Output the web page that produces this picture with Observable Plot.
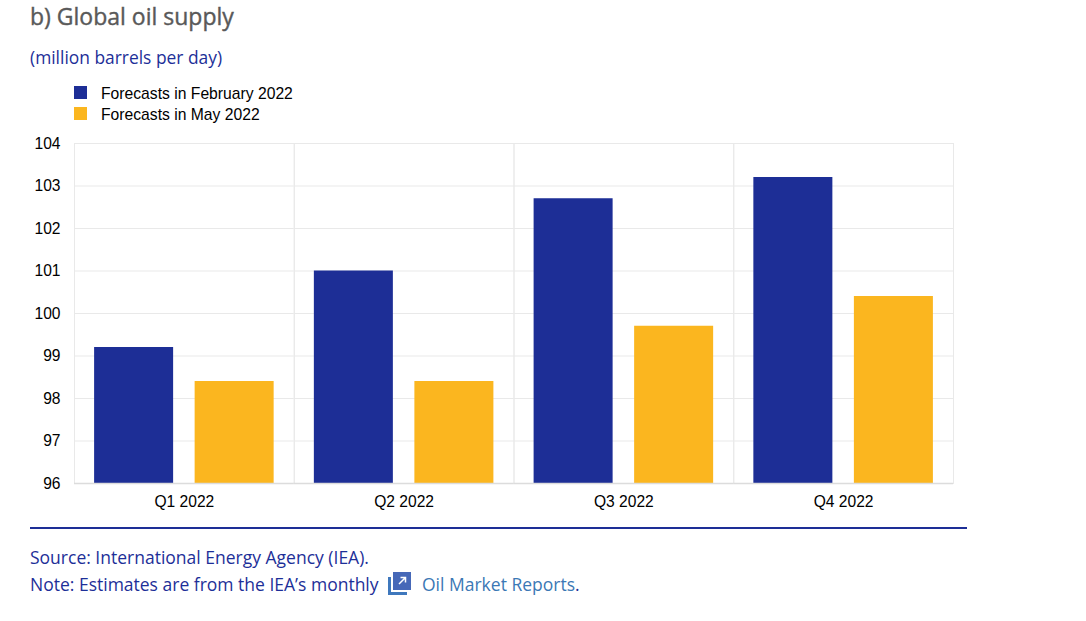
<!DOCTYPE html>
<html><head><meta charset="utf-8">
<script src="https://cdn.jsdelivr.net/npm/d3@7"></script>
<script src="https://cdn.jsdelivr.net/npm/@observablehq/plot@0.6"></script>
<style>
html,body{margin:0;padding:0;background:#fff;overflow:hidden}
body{position:relative;width:1086px;height:621px}
.t{position:absolute;white-space:nowrap;font-family:"Open Sans",sans-serif}
.leg{font:15.7px "Liberation Sans",Arial,sans-serif;color:#000}
.sw{position:absolute;width:13px;height:13px}
#chart{position:absolute;left:0;top:130px}
#chart text{fill:#000}
</style></head><body>
<div class="t" style="left:30px;top:0px;font-size:23px;color:#595959;-webkit-text-stroke:0.4px #595959">b) Global oil supply</div>
<div class="t" style="left:30px;top:45px;font-size:17.4px;color:#1d2f98">(million barrels per day)</div>
<div class="sw" style="left:74px;top:86px;background:#1d2e96"></div>
<div class="t leg" style="left:101px;top:85px">Forecasts in February 2022</div>
<div class="sw" style="left:74px;top:107px;background:#fbb61f"></div>
<div class="t leg" style="left:101px;top:106px">Forecasts in May 2022</div>
<div id="chart"></div>
<div style="position:absolute;left:30px;top:527px;width:937px;height:2px;background:#1d2e96"></div>
<div class="t" style="left:30px;top:545px;font-size:17.5px;color:#1d2f98">Source: International Energy Agency (IEA).</div>
<div class="t" style="left:30px;top:572px;font-size:17.5px;color:#1d2f98">Note: Estimates are from the IEA’s monthly</div>
<svg style="position:absolute;left:388px;top:572px" width="23" height="24" viewBox="0 0 23 24">
<path d="M0 5h3v15h16v3H0z" fill="#3f78bd"/><rect x="5" y="0" width="18" height="18" fill="#4668b8"/>
<path d="M11 12l6-6M12.5 5.500h5v5" stroke="#fff" stroke-width="1.5" fill="none"/></svg>
<div class="t" style="left:422px;top:572px;font-size:17.5px;color:#3b78b5">Oil Market Reports<span style="color:#1d2f98">.</span></div>
<script>
const quarters = ["Q1 2022","Q2 2022","Q3 2022","Q4 2022"];
const seriesNames = ["Forecasts in February 2022","Forecasts in May 2022"];
const february = [99.2,101.0,102.7,103.2];
const may = [98.4,98.4,99.7,100.4];
const yTicks = [96,97,98,99,100,101,102,103,104];
const barColors = ["#1d2e96","#fbb61f"];
const rows = quarters.flatMap((q,i)=>[
  {q,s:seriesNames[0],v:february[i]},
  {q,s:seriesNames[1],v:may[i]}
]);
const plot = Plot.plot({
  width:1086,height:390,
  marginLeft:74,marginRight:133,marginTop:13,marginBottom:37,
  style:{fontFamily:'"Liberation Sans",Arial,sans-serif',fontSize:"15.6px",background:"transparent",color:"#000"},
  fx:{domain:quarters,padding:0,round:false,label:null,axis:null},
  x:{domain:seriesNames,paddingInner:0.214,paddingOuter:0.2,round:false,axis:null,label:null},
  y:{domain:[96,104],ticks:yTicks,label:null,axis:null},
  color:{domain:seriesNames,range:barColors},
  marks:[
    Plot.ruleY(yTicks,{stroke:"#e9e9e9",strokeWidth:1}),
    Plot.frame({stroke:"#e9e9e9",strokeWidth:1}),
    Plot.barY(rows,{fx:"q",x:"s",y1:96,y2:"v",fill:"s"}),
    Plot.ruleY([96],{stroke:"#dcdcdc",strokeWidth:1.5}),
    Plot.axisY({ticks:yTicks,anchor:"left",tickSize:0,tickPadding:14,label:null,fontSize:15.6}),
    Plot.axisFx({domain:quarters,anchor:"bottom",tickSize:0,tickPadding:12,label:null,fontSize:15.6})
  ]
});
document.getElementById("chart").appendChild(plot);
</script>
</body></html>
